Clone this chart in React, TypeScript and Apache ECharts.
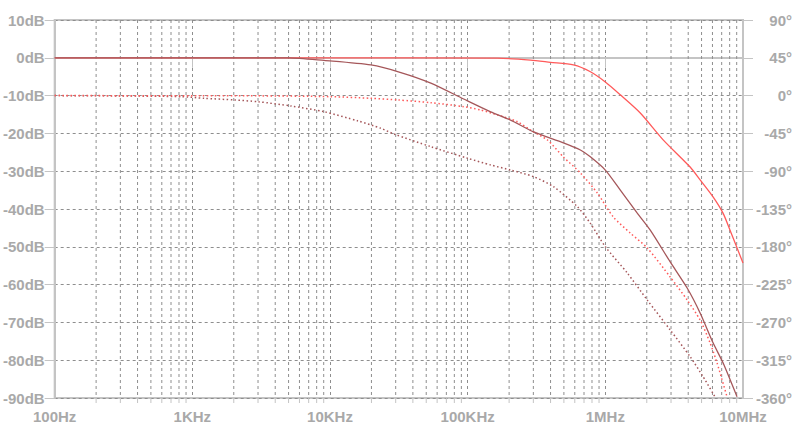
import React, { useEffect, useRef } from "react";
import * as echarts from "echarts";

// ---- data ----
const xTickLabels = ["100Hz", "1KHz", "10KHz", "100KHz", "1MHz", "10MHz"];

// magnitude A (light red, solid, dB)
const magAFreq = [100, 1e4, 1.65e5, 2.86e5, 3.99e5, 5.86e5, 7.79e5, 1e6, 1.285e6, 1.794e6, 2.63e6, 4.13e6, 4.88e6, 6.06e6, 7.16e6, 8.05e6, 1e7];
const magAdB = [0, 0, -0.1, -0.6, -1.2, -1.9, -3.7, -6.4, -9.8, -14.6, -21.7, -28.9, -32.3, -36.8, -41.1, -45.6, -54.3];

// magnitude B (dark red, solid, dB)
const magBFreq = [100, 5e3, 9.05e3, 1.98e4, 3.27e4, 5.4e4, 9.35e4, 1.47e5, 2.05e5, 3.01e5, 4.96e5, 6.59e5, 7.78e5, 1e6, 1.285e6, 1.706e6, 2.12e6, 2.96e6, 3.93e6, 4.88e6, 6.06e6, 7.16e6, 9.05e6];
const magBdB = [0, 0, -0.7, -1.9, -3.9, -6.7, -10.9, -14.3, -16.5, -19.6, -22.5, -24.4, -26.2, -29.7, -35.0, -41.1, -45.6, -54.0, -60.9, -67.5, -75.4, -80.7, -89.7];

// phase A (light red, dotted, degrees)
const phaseAFreq = [100, 3e3, 1.02e4, 1.98e4, 3.11e4, 5.4e4, 9.35e4, 1.24e5, 1.65e5, 2.3e5, 3.01e5, 3.8e5, 4.96e5, 6.59e5, 8.75e5, 1.143e6, 1.517e6, 2.015e6, 2.96e6, 3.93e6, 4.88e6, 5.77e6, 6.48e6, 7.66e6];
const phaseADeg = [0, -0.3, -1.3, -3.2, -5.2, -8.4, -13.2, -17.1, -23.1, -31.1, -43.3, -52.9, -73.1, -92.1, -116.0, -144.5, -163.6, -181.4, -216.0, -243.3, -267.2, -294.5, -318.3, -358.8];

// phase B (dark red, dotted, degrees)
const phaseBFreq = [100, 300, 832, 1.22e3, 2.02e3, 3.01e3, 5.21e3, 9.05e3, 1.6e4, 2.34e4, 2.91e4, 5.4e4, 1e5, 1.47e5, 2.05e5, 3.01e5, 4.2e5, 6.27e5, 7.78e5, 1e6, 1.443e6, 2.015e6, 2.96e6, 4.13e6, 5.13e6, 6.27e6];
const phaseBDeg = [0, -0.4, -1.3, -3.2, -5.2, -7.3, -12.4, -19.2, -30.2, -38.9, -45.7, -60.8, -74.6, -82.6, -88.6, -96.5, -108.4, -132.3, -152.0, -179.9, -211.2, -243.3, -279.0, -310.8, -334.6, -358.8];

// axis structure
const decades = [100, 1e3, 1e4, 1e5, 1e6];
const minorMults = [2, 3, 4, 5, 6, 7, 8, 9];

const LABEL_COLOR = "#a9a9a9";
const AXIS_COLOR = "#c4c4c4";
const GRID_COLOR = "#8e8e8e";
const LIGHT = "#ff5a5a";
const DARK = "#a5575a";

const pairs = (f: number[], v: number[]) => f.map((x, i) => [x, v[i]]);

export default function App() {
  const ref = useRef<HTMLDivElement>(null);
  useEffect(() => {
    if (!ref.current) return;
    const chart = echarts.init(ref.current, null, { renderer: "svg" });
    const minorFreqs: number[] = [];
    decades.forEach((d) => minorMults.forEach((m) => minorFreqs.push(d * m)));
    const labelFont = {
      color: LABEL_COLOR,
      fontFamily: "'Liberation Sans', Arial, sans-serif",
      fontWeight: "bold" as const,
      fontSize: 15,
    };
    const lineSeries = (name: string, axis: number, data: number[][], color: string, dotted: boolean) => ({
      type: "line",
      name,
      yAxisIndex: axis,
      data,
      showSymbol: false,
      smooth: 0.25,
      lineStyle: dotted
        ? { color, width: 1.5, type: [1.5, 2.5] }
        : { color, width: 1.3 },
      z: dotted ? 3 : 4,
    });
    chart.setOption({
      animation: false,
      grid: {
        left: 53,
        right: 57,
        top: 20,
        bottom: 30,
        show: true,
        borderColor: AXIS_COLOR,
        borderWidth: 2,
        backgroundColor: "transparent",
      },
      xAxis: {
        type: "log",
        logBase: 10,
        min: 100,
        max: 1e7,
        splitNumber: 5,
        axisLine: { show: true, lineStyle: { color: AXIS_COLOR, width: 2 } },
        axisTick: { show: true, length: 10, lineStyle: { color: AXIS_COLOR, width: 1 } },
        axisLabel: {
          ...labelFont,
          margin: 11,
          showMinLabel: true,
          showMaxLabel: true,
          formatter: (v: number) => xTickLabels[Math.round(Math.log10(v)) - 2] ?? "",
        },
        splitLine: { show: true, lineStyle: { color: GRID_COLOR, width: 1, type: [3, 3] } },
      },
      yAxis: [
        {
          type: "value",
          min: -90,
          max: 10,
          interval: 10,
          position: "left",
          axisLine: { show: true, lineStyle: { color: AXIS_COLOR, width: 2 } },
          axisTick: { show: true, length: 10, lineStyle: { color: AXIS_COLOR, width: 1 } },
          axisLabel: { ...labelFont, margin: 10, formatter: "{value}dB" },
          splitLine: { show: true, lineStyle: { color: GRID_COLOR, width: 1, type: [3, 3] } },
        },
        {
          type: "value",
          min: -360,
          max: 90,
          interval: 45,
          position: "right",
          axisLine: { show: true, lineStyle: { color: AXIS_COLOR, width: 2 } },
          axisTick: { show: true, length: 10, lineStyle: { color: AXIS_COLOR, width: 1 } },
          axisLabel: { ...labelFont, margin: 49, align: "right", formatter: "{value}°" },
          splitLine: { show: false },
        },
      ],
      series: [
        {
          type: "custom",
          name: "minor",
          silent: true,
          clip: false,
          z: 1,
          xAxisIndex: 0,
          yAxisIndex: 0,
          data: minorFreqs.map((f) => [f, 0]),
          encode: { x: 0, y: 1 },
          renderItem: (_p: any, api: any) => {
            const f = api.value(0);
            const top = api.coord([f, 10]);
            const bot = api.coord([f, -90]);
            return {
              type: "group",
              children: [
                {
                  type: "line",
                  shape: { x1: top[0], y1: top[1], x2: bot[0], y2: bot[1] },
                  style: { stroke: GRID_COLOR, lineWidth: 1, lineDash: [3, 3] },
                },
                {
                  type: "line",
                  shape: { x1: bot[0], y1: bot[1], x2: bot[0], y2: bot[1] + 5 },
                  style: { stroke: AXIS_COLOR, lineWidth: 1 },
                },
              ],
            };
          },
        },
        lineSeries("phaseB", 1, pairs(phaseBFreq, phaseBDeg), DARK, true),
        lineSeries("phaseA", 1, pairs(phaseAFreq, phaseADeg), LIGHT, true),
        lineSeries("magA", 0, pairs(magAFreq, magAdB), LIGHT, false),
        lineSeries("magB", 0, pairs(magBFreq, magBdB), DARK, false),
      ],
    });
    return () => chart.dispose();
  }, []);
  return (
    <div
      ref={ref}
      style={{ position: "fixed", left: 0, top: 0, width: 800, height: 428, background: "#fff" }}
    />
  );
}
